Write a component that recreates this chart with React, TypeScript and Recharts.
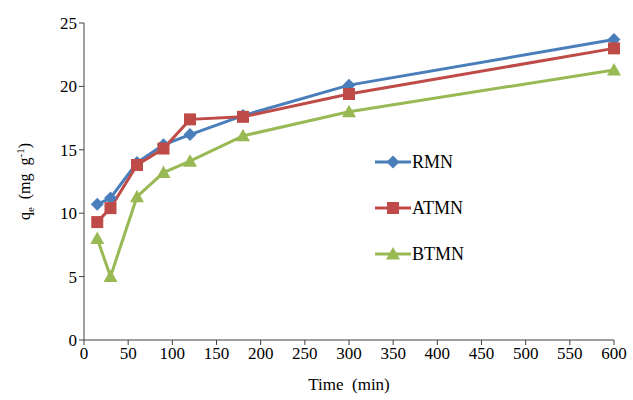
import { LineChart, Line, XAxis, YAxis, Legend, Label } from 'recharts';

const times = [15, 30, 60, 90, 120, 180, 300, 600];
const rmn = [10.7, 11.2, 14.0, 15.4, 16.2, 17.7, 20.1, 23.7];
const atmn = [9.3, 10.4, 13.8, 15.1, 17.4, 17.6, 19.4, 23.0];
const btmn = [8.0, 5.0, 11.3, 13.2, 14.1, 16.1, 18.0, 21.3];
const xTicks = [0, 50, 100, 150, 200, 250, 300, 350, 400, 450, 500, 550, 600];
const yTicks = [0, 5, 10, 15, 20, 25];

const BLUE = '#4a7ebb';
const RED = '#be4b48';
const GREEN = '#98b954';
const FONT = "'Times New Roman', 'Liberation Serif', 'DejaVu Serif', serif";

const data = times.map((t, i) => ({ time: t, RMN: rmn[i], ATMN: atmn[i], BTMN: btmn[i] }));

const Diamond = ({ cx, cy }: any) => (
  <path d={`M${cx},${cy - 6.5}L${cx + 6.5},${cy}L${cx},${cy + 6.5}L${cx - 6.5},${cy}Z`} fill={BLUE} />
);
const Square = ({ cx, cy }: any) => (
  <rect x={cx - 6} y={cy - 6} width={12} height={12} fill={RED} />
);
const Triangle = ({ cx, cy }: any) => (
  <path d={`M${cx},${cy - 7}L${cx + 7},${cy + 5.5}L${cx - 7},${cy + 5.5}Z`} fill={GREEN} />
);

const legendItems = [
  { name: 'RMN', color: BLUE, shape: 'diamond' },
  { name: 'ATMN', color: RED, shape: 'square' },
  { name: 'BTMN', color: GREEN, shape: 'triangle' },
];

const LegendBox = () => (
  <div style={{ fontFamily: FONT, fontSize: 18, color: '#000' }}>
    {legendItems.map((it) => (
      <div key={it.name} style={{ display: 'flex', alignItems: 'center', height: 46 }}>
        <svg width={36} height={16}>
          <line x1={0} y1={8} x2={36} y2={8} stroke={it.color} strokeWidth={3} />
          {it.shape === 'diamond' && <Diamond cx={18} cy={8} />}
          {it.shape === 'square' && <Square cx={18} cy={8} />}
          {it.shape === 'triangle' && <Triangle cx={18} cy={8} />}
        </svg>
        <span style={{ marginLeft: 1 }}>{it.name}</span>
      </div>
    ))}
  </div>
);

const YLabel = ({ viewBox }: any) => {
  const cx = 30;
  const cy = viewBox ? viewBox.y + viewBox.height / 2 : 180;
  return (
    <text
      x={cx}
      y={cy}
      transform={`rotate(-90, ${cx}, ${cy})`}
      textAnchor="middle"
      style={{ fontFamily: FONT, fontSize: 16 }}
      fill="#000"
    >
      <tspan>q</tspan>
      <tspan fontSize={11} dy={4}>e</tspan>
      <tspan dy={-4}>{'\u00a0\u00a0(mg\u00a0\u00a0g'}</tspan>
      <tspan fontSize={11} dy={-6}>-1</tspan>
      <tspan dy={6}>)</tspan>
    </text>
  );
};

const tickStyle = { fontFamily: FONT, fontSize: 17, fill: '#000' };

export default function App() {
  return (
    <div style={{ position: 'absolute', left: 0, top: 0, background: '#fff', fontFamily: FONT }}>
      <LineChart
        width={633}
        height={400}
        data={data}
        margin={{ top: 23, right: 19, bottom: 15, left: 0 }}
        style={{ fontFamily: FONT }}
      >
        <XAxis
          dataKey="time"
          type="number"
          domain={[0, 600]}
          ticks={xTicks}
          interval={0}
          height={45}
          stroke="#404040"
          tickSize={5}
          tick={{ ...tickStyle, style: { fontFamily: FONT } }}
        >
          <Label
            value={'Time\u00a0\u00a0(min)'}
            position="insideBottom"
            offset={-5}
            style={{ fontFamily: FONT, fontSize: 17, fill: '#000' }}
          />
        </XAxis>
        <YAxis
          type="number"
          domain={[0, 25]}
          ticks={yTicks}
          interval={0}
          width={84}
          stroke="#404040"
          tickSize={5}
          tick={{ ...tickStyle, style: { fontFamily: FONT } }}
          label={<YLabel />}
        />
        <Legend
          layout="horizontal"
          verticalAlign="middle"
          align="center"
          content={<LegendBox />}
          wrapperStyle={{ left: 375, top: 139, width: 140 }}
        />
        <Line dataKey="RMN" stroke={BLUE} strokeWidth={3} dot={<Diamond />} activeDot={false} isAnimationActive={false} />
        <Line dataKey="ATMN" stroke={RED} strokeWidth={3} dot={<Square />} activeDot={false} isAnimationActive={false} />
        <Line dataKey="BTMN" stroke={GREEN} strokeWidth={3} dot={<Triangle />} activeDot={false} isAnimationActive={false} />
      </LineChart>
    </div>
  );
}
